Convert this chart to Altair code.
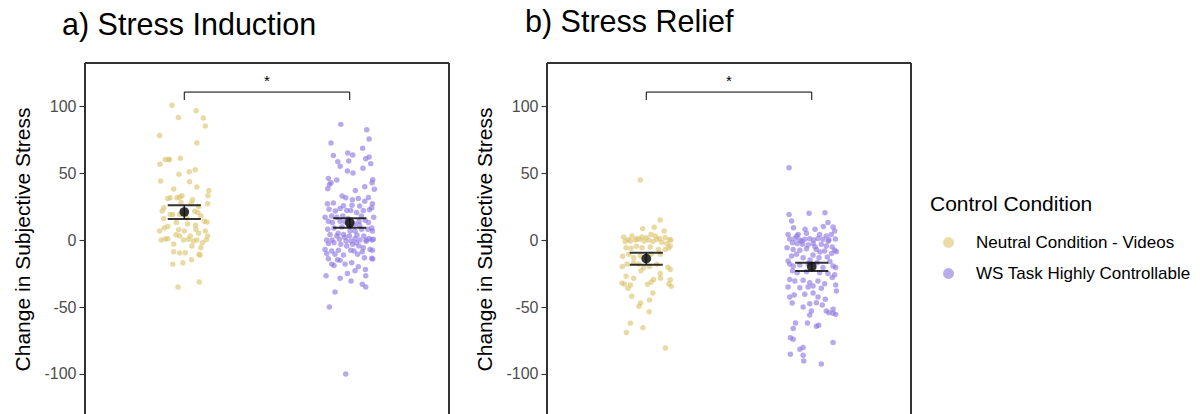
import altair as alt
import pandas as pd

groups = ["Neutral Condition - Videos", "WS Task Highly Controllable"]
colors = ["#DCC46A", "#8A75E0"]

# ---------- a) Stress Induction ----------
a1_jit = [-0.074, 0.072, -0.036, 0.115, 0.127, -0.149, 0.076, -0.024, -0.147, -0.115, -0.095, -0.09,
          0.03, -0.032, 0.066, -0.143, 0.032, 0.076, -0.064, 0.149, 0.143, -0.014, -0.085, -0.1,
          -0.044, -0.028, 0.141, 0.042, -0.123, -0.133, 0.087, 0.082, -0.085, -0.07, 0.064, -0.125,
          -0.028, 0.016, 0.121, 0.137, -0.048, 0.068, -0.149, -0.121, -0.034, 0.0, 0.127, 0.087,
          0.141, 0.133, -0.139, -0.115, -0.1, -0.028, 0.026, 0.036, 0.076, 0.056, -0.004, -0.064,
          0.046, 0.1, -0.028, -0.064, 0.006, 0.095, 0.089, 0.044, -0.07, -0.008, -0.038, 0.091,
          0.05, -0.02, 0.1, -0.1, 0.02, 0.11, -0.05, 0.07]
a1_val = [100.5, 96.5, 91.5, 91, 85, 78, 72.4, 61, 56.5, 60, 60, 60,
          51, 49, 52.5, 44, 43.5, 39.5, 38, 37, 33, 33, 31.5, 31,
          31.6, 32, 27, 27.5, 24, 21.6, 25, 20.5, 19, 19, 21.5, 16,
          19, 16.5, 14, 13.5, 13, 11, 6.7, 9, 7.7, 6.7, 6.7, 5,
          3, 0.2, 0, 0.7, 1, 3, 0.5, 3, 0, -0.7, 0, -3,
          -4.5, -5.7, -9.7, -8.7, -9.5, -11.4, -10.7, -14.7, -18, -17, -35, -31.3,
          30, 28, 18, 10, 12, -2, 4, 8]

a2_jit = [-0.054, 0.103, 0.117, -0.113, 0.078, -0.012, -0.099, 0.018, 0.117, 0.097, -0.072, -0.006,
          0.127, -0.058, 0.08, -0.014, 0.02, -0.129, -0.078, -0.123, -0.113, -0.133, 0.139, 0.135,
          0.091, 0.034, 0.149, -0.046, -0.024, 0.016, 0.052, 0.113, -0.135, -0.099, 0.091, 0.137,
          0.014, -0.038, 0.06, 0.133, -0.125, -0.087, -0.058, -0.018, 0.006, 0.042, 0.082, 0.119,
          -0.149, -0.109, -0.078, -0.042, 0.145, -0.129, -0.105, -0.058, -0.028, 0.056, 0.093, 0.113,
          0.133, -0.133, -0.095, -0.048, 0.002, 0.032, 0.072, 0.137, -0.119, -0.078, -0.038, -0.002,
          0.044, 0.085, 0.117, -0.139, -0.107, -0.062, -0.022, 0.008, 0.032, 0.062, 0.099, 0.133,
          0.143, -0.129, -0.095, -0.054, -0.018, 0.018, 0.056, 0.082, 0.123, -0.149, -0.109, -0.068,
          0.006, 0.026, 0.076, 0.137, -0.139, -0.089, -0.038, 0.048, 0.089, 0.139, 0.133, -0.129,
          -0.074, -0.058, -0.109, -0.095, -0.028, 0.012, 0.052, 0.095, 0.032, -0.014, -0.143, 0.097,
          -0.058, 0.008, 0.076, 0.097, -0.089, -0.123, -0.024,
          0.0, 0.03, -0.01, 0.07, -0.07, 0.1, 0.04, -0.03, 0.11, 0.06]
a2_val = [86.3, 82.3, 75.4, 72.4, 68.4, 65, 63, 63.4, 62, 60.7, 58.5, 59,
          57, 55, 53.5, 51.5, 50, 46, 44.8, 41.5, 42.8, 38.3, 45, 42.8,
          39.8, 37, 37.8, 32.8, 31.6, 30, 31, 31.8, 27, 27.6, 29, 27,
          26, 25.6, 25.4, 24, 23, 21.6, 23.6, 22, 22, 20.6, 22, 22.6,
          17, 18, 17, 18, 17, 14, 13, 14, 13.4, 14, 14.7, 13,
          9, 8, 9, 9.7, 6.7, 6.7, 8, 6.7, 4.2, 3, 4.2, 3,
          3.7, 3, 1.2, 0, 0, 0.5, -0.7, -0.7, 1.2, 0, 0, 0,
          0.5, -2.7, -2, -3.2, -4.5, -3.2, -4.5, -5.7, -7, -7, -8.2, -7.7,
          -7.7, -8.2, -8.7, -7.7, -10.2, -10.7, -11.2, -10.7, -13.2, -14.2, -13.7, -14,
          -14.7, -15.2, -18, -19, -18, -17, -20, -22, -23, -25, -26.6, -26.6,
          -28.6, -30.6, -33, -35, -38.8, -50, -100,
          10, 12, 16, 18, 5, -1, -2, 2, 8, 11]

# ---------- b) Stress Relief ----------
b1_jit = [-0.036, 0.084, -0.022, 0.048, 0.108, -0.137, -0.11, -0.086, -0.056, -0.026, 0.0, 0.028,
          0.054, 0.08, 0.114, 0.141, 0.149, -0.127, -0.096, -0.066, -0.04, -0.012, 0.014, 0.04,
          0.064, 0.094, 0.124, 0.145, -0.122, -0.092, -0.06, -0.026, 0.024, 0.074, 0.114, 0.135,
          -0.143, -0.106, -0.076, -0.036, 0.03, 0.084, -0.145, -0.116, -0.076, -0.046, -0.016, 0.02,
          0.064, -0.032, 0.131, 0.145, 0.084, -0.122, -0.076, 0.044, 0.086, 0.145, -0.147, -0.133,
          -0.096, -0.11, 0.008, 0.03, 0.137, 0.151, -0.088, 0.04, 0.02, -0.034, -0.044, 0.018,
          -0.096, -0.02, -0.12, 0.116]
b1_val = [44.8, 15, 8.5, 9.5, 6.7, 2.2, 0.2, 3, 1.2, 2.2, 1.7, 4.2,
          3, 1.2, 1.7, 0.2, 0, -1.2, -0.7, 0, 0.5, -0.7, 0, -1.2,
          0.5, -1.7, -2.7, -4.5, -5.7, -6.2, -4.7, -5.7, -5.2, -7, -7, -5.7,
          -12.2, -10.7, -13.2, -12, -10.7, -10.7, -19.7, -18, -17, -18, -20.6, -19.7,
          -18, -23, -20.4, -22, -25, -27, -28.6, -29.4, -28.6, -29.6, -32, -33,
          -33.6, -36, -33, -31.3, -32.8, -34.6, -42, -39.6, -44.8, -47, -49.5, -53.5,
          -62.2, -65.4, -69, -80.6]

b2_jit = [-0.137, -0.137, -0.016, 0.08, -0.122, 0.098, -0.11, 0.02, 0.129, 0.139, -0.143, -0.082,
          -0.032, 0.048, 0.088, 0.118, -0.133, -0.102, -0.072, -0.042, -0.012, 0.012, 0.038, 0.068,
          0.104, 0.143, -0.116, -0.088, -0.056, -0.022, 0.008, 0.058, 0.088, 0.124, -0.149, -0.112,
          -0.072, -0.032, 0.028, 0.078, 0.139, 0.149, -0.122, -0.092, -0.052, 0.008, 0.044, 0.094,
          -0.143, -0.112, -0.133, -0.072, -0.022, 0.032, 0.068, 0.129, 0.145, -0.116, -0.088, -0.032,
          0.048, 0.098, 0.139, 0.124, -0.133, -0.102, -0.052, -0.012, 0.038, 0.078, 0.145, -0.143,
          -0.072, -0.022, 0.008, 0.058, 0.149, -0.133, -0.106, -0.042, 0.008, 0.038, 0.082, -0.118,
          -0.012, 0.028, 0.064, -0.052, 0.129, -0.002, 0.088, 0.104, 0.129, 0.145, -0.012, -0.098,
          -0.026, 0.028, 0.042, -0.112, -0.129, -0.112, 0.129, -0.052, -0.072, -0.129, -0.052, -0.048,
          0.058,
          -0.06, 0.02, 0.1, -0.09, 0.05, -0.01, 0.11, 0.12, -0.04, 0.07]
b2_val = [54, 19, 20, 20.4, 14.2, 13, 9.2, 8, 9.7, 6.7, 4.2, 4.2,
          5, 4.2, 3, 4.2, 0.7, 1.2, 0, 0.5, 1, 0, 1.2, 0.5,
          0.2, 0.7, -2, -2.7, -3.2, -3.7, -2.7, -3.2, -4.5, -5.2, -5.7, -7,
          -7.7, -6.5, -7, -8.2, -7.7, -8.7, -12, -10.7, -13.2, -11.2, -13.2, -12.7,
          -15.7, -19.4, -18, -18.7, -17.7, -17, -20.6, -19.4, -20.6, -23, -24.4, -23.6,
          -24.4, -25, -26, -28, -29.4, -30.6, -30, -31.8, -30.6, -32.6, -33.6, -35,
          -35.6, -35, -34.3, -36, -38, -42.5, -41, -40.5, -39.6, -42.5, -44.3, -47,
          -47.5, -46.8, -48.5, -50, -51.7, -53, -53, -54.2, -54.7, -55.5, -56, -62,
          -62, -64.4, -63.7, -66, -73, -74, -76.4, -80.3, -81.6, -85.3, -86, -90.3,
          -92.5,
          -1, -5, -1, 3, -9, -15, -16, -10, 8, 10]

# means and standard-error bars (mean, lower, upper)
a_mean = [20.9, 12.9]
a_lo = [15.7, 9.2]
a_hi = [25.9, 16.2]
b_mean = [-13.9, -19.9]
b_lo = [-18.4, -23.1]
b_hi = [-9.5, -16.9]

# significance bracket
bracket_top = 110.4
bracket_bottom = 104.5
star_y = 115.0
star_label = "*"

titles = ["a) Stress Induction", "b) Stress Relief"]
y_title = "Change in Subjective Stress"
legend_title = "Control Condition"

FONT = "Liberation Sans"
W = 364
H = 352
Y_DOMAIN = [-130.6, 132.1]
X_DOMAIN = [0.4, 2.6]
CAP = 0.1


def points_df(j1, v1, j2, v2):
    rows = []
    for j, v in zip(j1, v1):
        rows.append({"x": 1 + j, "y": v, "group": groups[0]})
    for j, v in zip(j2, v2):
        rows.append({"x": 2 + j, "y": v, "group": groups[1]})
    return pd.DataFrame(rows)


def summary_df(mean, lo, hi):
    return pd.DataFrame({
        "x": [1, 2], "xl": [1 - CAP, 2 - CAP], "xr": [1 + CAP, 2 + CAP],
        "mean": mean, "lo": lo, "hi": hi,
    })


def panel(title, pts, summ, dx, offset):
    xs = alt.Scale(domain=X_DOMAIN, nice=False, zero=False)
    ys = alt.Scale(domain=Y_DOMAIN, nice=False, zero=False)
    xenc = alt.X("x:Q", scale=xs, axis=None)
    base = alt.Chart(pts)
    dots = base.mark_circle(size=30, opacity=0.62).encode(
        x=xenc,
        y=alt.Y("y:Q", scale=ys,
                axis=alt.Axis(values=[-100, -50, 0, 50, 100], title=y_title,
                              labelExpr="'' + datum.value",
                              grid=False, domain=False, tickColor="#333333",
                              tickSize=6, tickWidth=1.1, labelPadding=3,
                              labelFontSize=16, labelColor="#4D4D4D", labelFont=FONT,
                              titleFontSize=21, titleFont=FONT, titleFontWeight="normal",
                              titleColor="#000000", titlePadding=10)),
        color=alt.Color("group:N", scale=alt.Scale(domain=groups, range=colors),
                        legend=alt.Legend(title=legend_title)),
    )
    s = alt.Chart(summ)
    vbar = s.mark_rule(color="#000000", strokeWidth=1.6, opacity=0.8).encode(
        x=alt.X("x:Q", scale=xs), y=alt.Y("lo:Q", scale=ys), y2="hi:Q")
    cap_lo = s.mark_rule(color="#000000", strokeWidth=2, opacity=0.8).encode(
        x=alt.X("xl:Q", scale=xs), x2="xr:Q", y=alt.Y("lo:Q", scale=ys))
    cap_hi = s.mark_rule(color="#000000", strokeWidth=2, opacity=0.8).encode(
        x=alt.X("xl:Q", scale=xs), x2="xr:Q", y=alt.Y("hi:Q", scale=ys))
    mean_pt = s.mark_circle(size=95, color="#111111", opacity=0.85).encode(
        x=alt.X("x:Q", scale=xs), y=alt.Y("mean:Q", scale=ys))

    br = pd.DataFrame({"x1": [1, 1, 2], "x2": [2, 1, 2],
                       "y1": [bracket_top, bracket_bottom, bracket_bottom],
                       "y2": [bracket_top, bracket_top, bracket_top]})
    bracket = alt.Chart(br).mark_rule(color="#000000", strokeWidth=1).encode(
        x=alt.X("x1:Q", scale=xs), x2="x2:Q", y=alt.Y("y1:Q", scale=ys), y2="y2:Q")
    star = alt.Chart(pd.DataFrame({"x": [1.5], "y": [star_y], "t": [star_label]})).mark_text(
        fontSize=15, font=FONT, color="#000000", baseline="alphabetic").encode(
        x=alt.X("x:Q", scale=xs), y=alt.Y("y:Q", scale=ys), text="t:N")

    border_col = "#333333"
    left = alt.Chart(pts).mark_rule(color=border_col, strokeWidth=1.4).encode(
        x=alt.value(0), y=alt.value(0), y2=alt.value(H + 2))
    right = alt.Chart(pts).mark_rule(color=border_col, strokeWidth=1.4).encode(
        x=alt.value(W), y=alt.value(0), y2=alt.value(H + 2))
    top = alt.Chart(pts).mark_rule(color=border_col, strokeWidth=1.4).encode(
        x=alt.value(0), x2=alt.value(W), y=alt.value(0))

    return alt.layer(dots, bracket, star, vbar, cap_lo, cap_hi, mean_pt, left, right, top).properties(
        width=W, height=H,
        title=alt.TitleParams(title, anchor="start", frame="group", fontSize=30.5, font=FONT,
                              fontWeight="normal", color="#000000", dx=dx, offset=offset),
    )


pa = panel(titles[0], points_df(a1_jit, a1_val, a2_jit, a2_val), summary_df(a_mean, a_lo, a_hi), -23, 21)
pb = panel(titles[1], points_df(b1_jit, b1_val, b2_jit, b2_val), summary_df(b_mean, b_lo, b_hi), -22, 24)

chart = alt.hconcat(pa, pb, spacing=24).properties(
    padding={"left": 12, "top": 7, "right": 5, "bottom": 0}
).configure_view(stroke=None).configure_legend(
    orient="none", legendX=845, legendY=131,
    titleFontSize=21, titleFont=FONT, titleFontWeight="normal", titleColor="#000000",
    labelFontSize=17, labelFont=FONT, labelColor="#000000", labelLimit=0,
    symbolType="circle", symbolSize=120, symbolOpacity=0.6, symbolStrokeWidth=0,
    symbolOffset=10, rowPadding=13, titlePadding=19, labelOffset=19,
)

chart.save("out.html", embed_options={"renderer": "svg", "actions": False})
